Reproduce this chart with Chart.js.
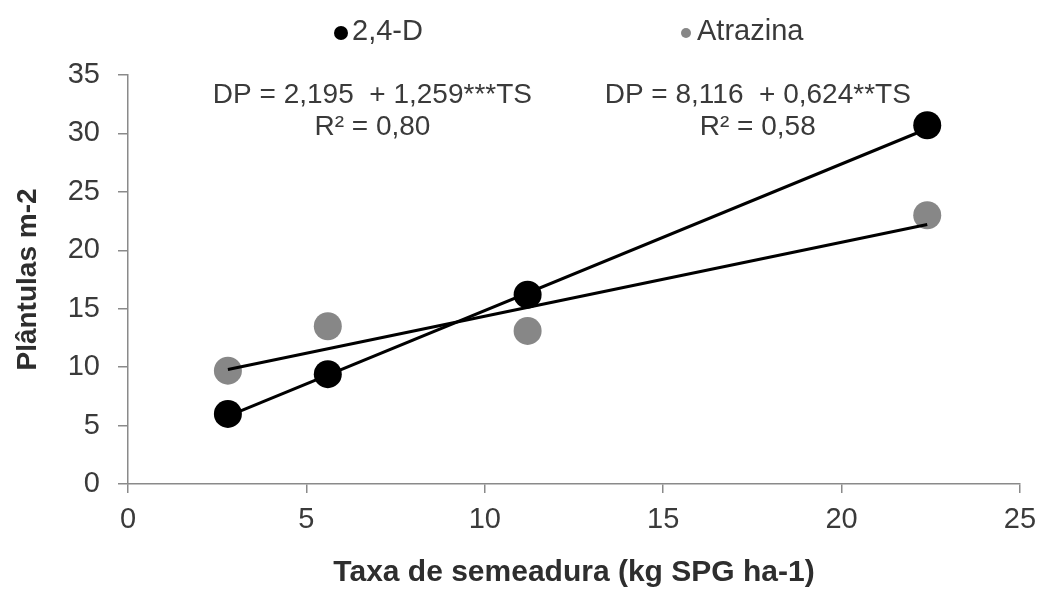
<!DOCTYPE html>
<html>
<head>
<meta charset="utf-8">
<script src="https://cdn.jsdelivr.net/npm/chart.js@4/dist/chart.umd.min.js"></script>
<style>
  html, body { margin: 0; padding: 0; background: #fff; }
</style>
</head>
<body>
<canvas id="c" width="1040" height="591"></canvas>
<script>
// values
const taxa = [2.8, 5.6, 11.2, 22.4];
const pts24D = [6.0, 9.4, 16.2, 30.7];
const ptsAtrazina = [9.7, 13.5, 13.1, 23.0];

// fitted lines, endpoints
const fitX = [2.8, 22.4];
const fit24D = [5.8, 30.4];
const fitAtrazina = [9.8, 22.2];

const seriesNames = ['2,4-D', 'Atrazina'];
const eqText = [
  ['DP = 2,195  + 1,259***TS', 'R² = 0,80'],
  ['DP = 8,116  + 0,624**TS', 'R² = 0,58']
];
const eqAt = [[6.85, 33.3], [17.65, 33.3]];

const toXY = (xs, ys) => xs.map((x, i) => ({x: x, y: ys[i]}));

const textColor = '#3a3a3a';
const axisColor = '#8a8a8a';
const font = 'Liberation Sans, Arial, sans-serif';

// legend + equation texts
const extras = {
  id: 'extras',
  afterDraw(chart) {
    const ctx = chart.ctx;
    const xs = chart.scales.x, ys = chart.scales.y;
    ctx.save();
    ctx.fillStyle = textColor;
    ctx.font = '28px ' + font;
    ctx.textAlign = 'center';
    ctx.textBaseline = 'middle';
    eqText.forEach((lines, i) => {
      const cx = xs.getPixelForValue(eqAt[i][0]);
      const cy = ys.getPixelForValue(eqAt[i][1]);
      lines.forEach((t, j) => ctx.fillText(t, cx, cy + j * 32));
    });
    // legend
    const legendX = [341, 686];
    const legendDot = [7, 5];
    ctx.textAlign = 'left';
    ctx.font = '29px ' + font;
    seriesNames.forEach((name, i) => {
      const ds = chart.data.datasets[i];
      ctx.fillStyle = ds.backgroundColor;
      ctx.beginPath();
      ctx.arc(legendX[i], 33, legendDot[i], 0, Math.PI * 2);
      ctx.fill();
      ctx.fillStyle = textColor;
      ctx.fillText(name, legendX[i] + 11, 32);
    });
    ctx.restore();
  }
};

new Chart(document.getElementById('c'), {
  type: 'scatter',
  data: {
    datasets: [
      {
        label: seriesNames[0],
        data: toXY(taxa, pts24D),
        backgroundColor: '#000000',
        pointRadius: 14,
        pointBorderWidth: 0,
        order: 1
      },
      {
        label: seriesNames[1],
        data: toXY(taxa, ptsAtrazina),
        backgroundColor: '#878787',
        pointRadius: 14,
        pointBorderWidth: 0,
        order: 1
      },
      {
        label: 'fit 2,4-D',
        data: toXY(fitX, fit24D),
        showLine: true,
        borderColor: '#000000',
        borderWidth: 3,
        pointRadius: 0,
        order: 0
      },
      {
        label: 'fit Atrazina',
        data: toXY(fitX, fitAtrazina),
        showLine: true,
        borderColor: '#000000',
        borderWidth: 3,
        pointRadius: 0,
        order: 0
      }
    ]
  },
  options: {
    responsive: false,
    animation: false,
    layout: { padding: { top: 75, right: 20, left: 0, bottom: 0 } },
    plugins: {
      legend: { display: false },
      tooltip: { enabled: false }
    },
    scales: {
      x: {
        type: 'linear',
        min: 0,
        max: 25,
        ticks: { stepSize: 5, color: textColor, font: { family: font, size: 29 }, padding: 10, maxRotation: 0 },
        grid: { drawOnChartArea: false, color: axisColor, tickLength: 9, lineWidth: 1.5 },
        border: { color: axisColor, width: 1.5 },
        title: {
          display: true,
          text: 'Taxa de semeadura (kg SPG ha-1)',
          color: '#2e2e2e',
          font: { family: font, size: 30, weight: 'bold' },
          padding: { top: 0, bottom: 0 }
        },
        afterFit(s) {
          s.height = 107;
          s.paddingLeft = 0;
          s.paddingRight = 0;
        }
      },
      y: {
        min: 0,
        max: 35,
        ticks: { stepSize: 5, color: textColor, font: { family: font, size: 29 }, padding: 18 },
        grid: { drawOnChartArea: false, color: axisColor, tickLength: 10, lineWidth: 1.5 },
        border: { color: axisColor, width: 1.5 },
        title: {
          display: true,
          text: 'Plântulas m-2',
          color: '#2e2e2e',
          font: { family: font, size: 28, weight: 'bold' },
          padding: { top: 11, bottom: 0 }
        },
        afterFit(s) { s.width = 128; }
      }
    }
  },
  plugins: [extras]
});
</script>
</body>
</html>
